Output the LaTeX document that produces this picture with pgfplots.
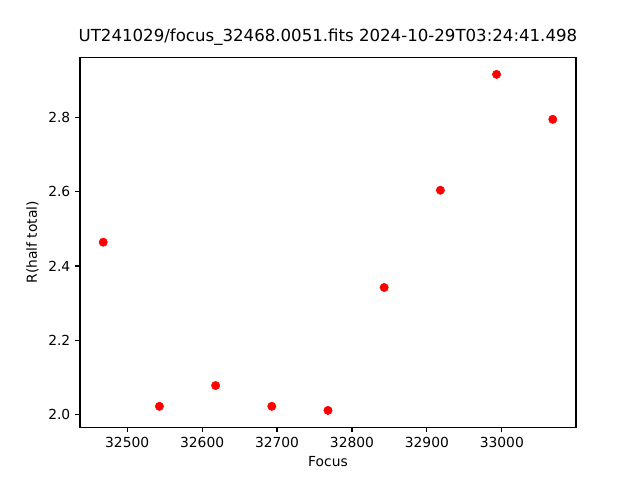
\documentclass[border=0pt]{standalone}
\usepackage{fontspec}
\setmainfont{DejaVu Sans}
\usepackage{pgfplots}
\pgfplotsset{compat=1.18}
\begin{document}
\begin{tikzpicture}
\begin{axis}[
  name=ax, at={(0,0)}, anchor=south west,
  scale only axis, width=4.96in, height=3.696in,
  xmin=32437, xmax=33099, ymin=1.9658, ymax=2.9612,
  xtick={32500,32600,32700,32800,32900,33000},
  ytick={2.0,2.2,2.4,2.6,2.8},
  scaled ticks=false,
  /pgf/number format/assume math mode=true,
  xticklabel style={/pgf/number format/1000 sep={}},
  yticklabel style={/pgf/number format/fixed,/pgf/number format/fixed zerofill,/pgf/number format/precision=1},
  tick align=outside, tick pos=left,
  major tick length=3.5pt,
  every tick/.style={black, line width=0.8pt},
  axis line style={line width=0.8pt},
  tick label style={font=\fontsize{10}{12}\selectfont},
  label style={font=\fontsize{10}{12}\selectfont},
  xlabel={Focus}, ylabel={R(half total)},
  title={UT241029/focus\_32468.0051.fits 2024-10-29T03:24:41.498},
  title style={font=\fontsize{12}{14}\selectfont, yshift=-1pt},
]
\addplot[only marks, mark=*, mark size=3pt, color=red, mark options={draw=red, fill=red}] coordinates {
(32468,2.464) (32543,2.022) (32618,2.078) (32693,2.022) (32768,2.011)
(32843,2.342) (32918,2.604) (32993,2.916) (33068,2.795)
};
\end{axis}
\path[use as bounding box] (-0.8in,-0.528in) rectangle (5.6in,4.272in);
\end{tikzpicture}
\end{document}
